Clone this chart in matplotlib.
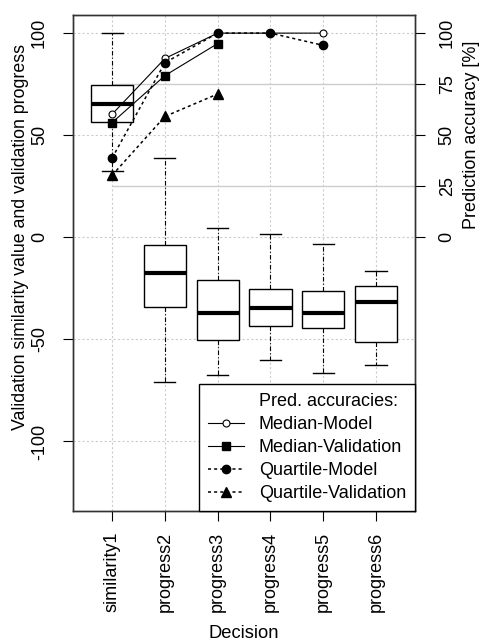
import matplotlib
matplotlib.use("Agg")
import matplotlib.pyplot as plt
import numpy as np
from matplotlib.lines import Line2D

plt.rcParams['font.family'] = ['Liberation Sans', 'DejaVu Sans']

# box statistics (left axis)
categories = ['similarity1', 'progress2', 'progress3', 'progress4', 'progress5', 'progress6']
box_q1 = [56.6, -34.0, -50.2, -43.6, -44.5, -51.4]
box_med = [65.5, -17.6, -37.2, -34.5, -37.2, -31.5]
box_q3 = [74.8, -3.9, -21.0, -25.5, -26.5, -23.7]
whisk_lo = [32.3, -71.0, -67.6, -60.3, -66.5, -62.4]
whisk_hi = [100.0, 38.7, 4.4, 1.5, -3.4, -16.4]

# prediction accuracies (right axis)
median_model = [60.3, 87.6, 100.0, 100.0, 100.0, np.nan]
median_valid = [56.2, 79.2, 94.9, np.nan, np.nan, np.nan]
quart_model = [38.9, 85.5, 100.0, 100.0, 94.0, np.nan]
quart_valid = [30.4, 59.2, 70.2, np.nan, np.nan, np.nan]

left_ticks = [-100, -50, 0, 50, 100]
right_ticks = [0, 25, 50, 75, 100]
ref_lines = [25, 75]
ylim = (-134, 109)

pos = np.arange(1, len(categories) + 1)

fig = plt.figure(figsize=(4.81, 6.41), dpi=100)
ax = fig.add_axes([0.152, 0.203, 0.711, 0.774])

# grid
for x in pos:
    ax.axvline(x, color='#cccccc', lw=0.8, ls=(0, (2, 2)), zorder=0)
for y in left_ticks:
    ax.axhline(y, color='#cccccc', lw=0.8, ls=(0, (2, 2)), zorder=0)
ax.hlines(ref_lines, pos[0], len(categories) + 0.74, color='#cccccc', lw=1, zorder=0.5)

stats = []
for c, a, m, b, lo, hi in zip(categories, box_q1, box_med, box_q3, whisk_lo, whisk_hi):
    stats.append(dict(label=c, q1=a, med=m, q3=b, whislo=lo, whishi=hi))

ax.bxp(stats, positions=pos, widths=0.8, showfliers=False, patch_artist=True,
       boxprops=dict(facecolor='white', edgecolor='black', lw=1),
       medianprops=dict(color='black', lw=3, solid_capstyle='butt'),
       whiskerprops=dict(color='black', lw=0.8, ls=(0, (4, 2, 1, 2))),
       capprops=dict(color='black', lw=1), capwidths=0.4, zorder=2)

ax.set_xlim(0.26, 6.74)
ax.set_ylim(*ylim)
ax.set_yticks(left_ticks)
ax.set_yticklabels([str(t) for t in left_ticks], rotation=90, va='center')
ax.tick_params(axis='y', length=7, pad=11, labelsize=13)
ax.tick_params(axis='x', length=7, pad=8, labelsize=13)
ax.set_xticks(pos)
ax.set_xticklabels(categories, rotation=90)
ax.set_ylabel('Validation similarity value and validation progress', fontsize=12.8)
ax.yaxis.set_label_coords(-0.128, 0.552)
ax.set_xlabel('Decision', fontsize=13.2)
ax.xaxis.set_label_coords(0.5, -0.23)

ax2 = ax.twinx()
ax2.set_ylim(*ylim)
ax2.set_yticks(right_ticks)
ax2.set_yticklabels([str(t) for t in right_ticks], rotation=90, va='center')
ax2.tick_params(axis='y', length=7, pad=10, labelsize=13)
ax2.set_ylabel('Prediction accuracy [%]', fontsize=13)
ax2.yaxis.set_label_coords(1.14, 0.758)

l1, = ax2.plot(pos, median_model, color='black', lw=0.8, marker='o', ms=5,
               mfc='white', mec='black', mew=0.8, label='Median-Model')
l2, = ax2.plot(pos, median_valid, color='black', lw=0.8, marker='s', ms=6,
               label='Median-Validation')
l3, = ax2.plot(pos, quart_model, color='black', lw=1.1, ls=(0, (2, 2)), marker='o',
               ms=6, label='Quartile-Model')
l4, = ax2.plot(pos, quart_valid, color='black', lw=1.1, ls=(0, (2, 2)), marker='^',
               ms=6.5, label='Quartile-Validation')

for a in (ax, ax2):
    for s in a.spines.values():
        s.set_color('#333333')
        s.set_linewidth(1)

blank = Line2D([], [], ls='none', marker=None)
leg = ax2.legend([blank, l1, l2, l3, l4],
                 ['Pred. accuracies:', 'Median-Model', 'Median-Validation',
                  'Quartile-Model', 'Quartile-Validation'],
                 loc='lower right', bbox_to_anchor=(1, 0), borderaxespad=0,
                 fontsize=13, fancybox=False, framealpha=1, edgecolor='black',
                 handlelength=2.0, handletextpad=0.8, labelspacing=0.33,
                 borderpad=0.5)
leg.get_frame().set_linewidth(1)

fig.savefig('out.png', dpi=100)
